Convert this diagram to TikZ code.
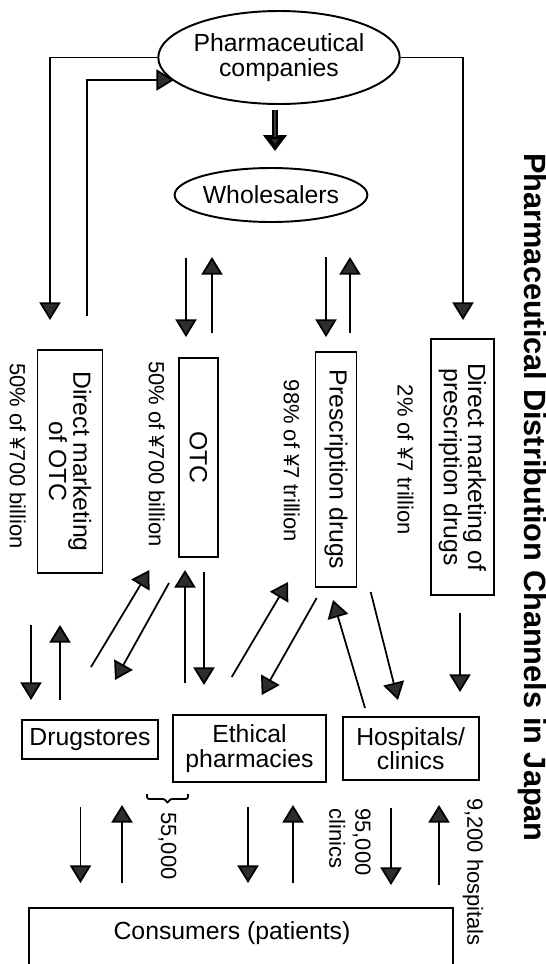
\documentclass[tikz,border=0pt]{standalone}
\usepackage{fontspec}
\setmainfont{Liberation Sans}
\usetikzlibrary{arrows.meta,shapes.geometric}
\newcommand\fntA{\fontsize{14.1}{13.8}\selectfont}
\newcommand\fntL{\fontsize{12.5}{13}\selectfont}
\begin{document}
\begin{tikzpicture}[x=0.02cm,y=-0.02cm,
  box/.style={draw,line width=1.1pt,inner sep=0pt,align=center,font=\fntA},
  rbox/.style={box,rotate=-90},
  ell/.style={draw,ellipse,line width=1.1pt,inner sep=0pt,align=center,font=\fntA},
  lab/.style={rotate=-90,font=\fntL,inner sep=0pt},
  arr/.style={line width=1pt,-{Triangle[length=10pt,width=12pt,fill=gray!35!black]}},
  thickarr/.style={line width=3.8pt,-{Triangle[length=9pt,width=13pt,fill=gray!35!black]}}]
\useasboundingbox (0,0) rectangle (546,964);

% ellipses
\node[ell,minimum width=4.74cm,minimum height=1.86cm] (comp) at (279,57.5) {Pharmaceutical\\companies};
\node[ell,minimum width=3.51cm,minimum height=1.08cm] (whol) at (271,195) {Wholesalers};

% rotated boxes
\node[rbox,minimum width=4.46cm,minimum height=1.30cm] (dmotc) at (70,461.5) {Direct marketing\\of OTC};
\node[rbox,minimum width=3.98cm,minimum height=0.79cm] (otc) at (198.5,457.5) {OTC};
\node[rbox,minimum width=4.7cm,minimum height=0.82cm] (presc) at (336,469.5) {Prescription drugs};
\node[rbox,minimum width=5.12cm,minimum height=1.25cm] (dmpresc) at (462.4,467) {Direct marketing of\\prescription drugs};

% outlet boxes
\node[box,minimum width=2.72cm,minimum height=0.78cm] (drug) at (90,739.5) {Drugstores};
\node[box,minimum width=3.06cm,minimum height=1.34cm] (eth) at (249.5,748.5) {Ethical\\pharmacies};
\node[box,minimum width=2.72cm,minimum height=1.26cm] (hosp) at (410.7,748.5) {Hospitals/\\clinics};
\node[box,anchor=north,minimum width=8.48cm,minimum height=1.6cm] (cons) at (241,907) {};
\node[font=\fntA] (constxt) at (232,933) {Consumers (patients)};

% labels
\node[lab] (l1) at (17.8,456) {50\% of ¥700 billion};
\node[lab] (l2) at (156.8,454) {50\% of ¥700 billion};
\node[lab] (l3) at (291.6,461) {98\% of ¥7 trillion};
\node[lab] (l4) at (405.5,460) {2\% of ¥7 trillion};
\node[lab] (l5) at (167.5,846) {55,000};
\node[lab,align=left,font=\fontsize{12.5}{14.8}\selectfont] (l6) at (350,842) {95,000\\clinics};
\node[lab] (l7) at (473,872) {9,200 hospitals};
\node[rotate=-90,anchor=base,inner sep=0pt,font=\fontsize{17.5}{18}\selectfont\bfseries] (title) at (524,497.5) {Pharmaceutical Distribution Channels in Japan};

% brace
\draw[line width=1pt,rounded corners=1.2pt] (147,794) -- (147,799) -- (165,799) -- (167.5,803.5) -- (170,799) -- (188,799) -- (188,794);

% coordinates
\coordinate (c1) at (50,320);
\coordinate (c2s) at (86.7,316); \coordinate (c2e) at (174,80);
\coordinate (c3) at (463,320);
\coordinate (t1) at (275,110); \coordinate (t2) at (275,151); \coordinate (t3) at (275,137);
\coordinate (a1) at (186,258); \coordinate (a2) at (186,337);
\coordinate (b1) at (212,333); \coordinate (b2) at (212,257);
\coordinate (cc1) at (326,257); \coordinate (cc2) at (326,337);
\coordinate (d1) at (350,333); \coordinate (d2) at (350,257);
\coordinate (e1) at (31,625); \coordinate (e2) at (31,700);
\coordinate (f1) at (60,700); \coordinate (f2) at (60,625);
\coordinate (g1) at (91,667); \coordinate (g2) at (149.4,570);
\coordinate (h1) at (169,583); \coordinate (h2) at (115,680);
\coordinate (i1) at (185,683); \coordinate (i2) at (185,570);
\coordinate (j1) at (204,572); \coordinate (j2) at (204,685);
\coordinate (k1) at (231.7,677); \coordinate (k2) at (288,582);
\coordinate (m1) at (316.7,598); \coordinate (m2) at (261.7,695);
\coordinate (n1) at (365,708); \coordinate (n2) at (333,600);
\coordinate (o1) at (370.7,592); \coordinate (o2) at (398,700);
\coordinate (p1) at (460,613); \coordinate (p2) at (460,692);
\coordinate (q1) at (80.5,807); \coordinate (q2) at (80.5,883);
\coordinate (r1) at (122,883); \coordinate (r2) at (122,805);
\coordinate (s1) at (248,807); \coordinate (s2) at (248,883);
\coordinate (u1) at (293,883); \coordinate (u2) at (293,805);
\coordinate (v1) at (391,808); \coordinate (v2) at (391,885);
\coordinate (w1) at (439,885); \coordinate (w2) at (439,805);

% connectors
\draw[arr] (comp.west) -| (c1);
\draw[arr] (c2s) |- (c2e);
\draw[arr] (comp.east) -| (c3);
\draw[thickarr] (t1) -- (t2);
\draw[line width=1.4pt,gray!45!black] (t1) -- (t3);
\foreach \s/\e in {a1/a2,b1/b2,cc1/cc2,d1/d2,e1/e2,f1/f2,g1/g2,h1/h2,i1/i2,j1/j2,k1/k2,m1/m2,n1/n2,o1/o2,p1/p2,q1/q2,r1/r2,s1/s2,u1/u2,v1/v2,w1/w2}
  \draw[arr] (\s) -- (\e);
\end{tikzpicture}
\end{document}
